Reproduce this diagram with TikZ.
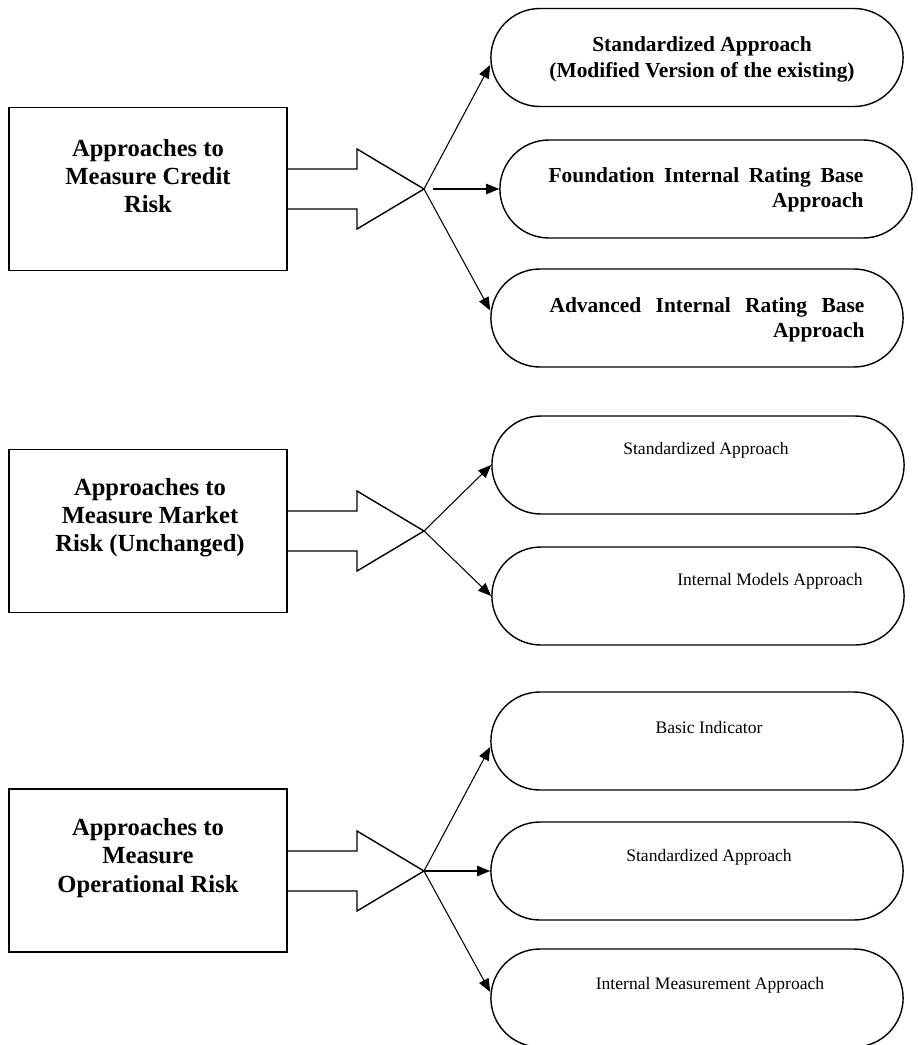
\documentclass[tikz,border=0pt]{standalone}
\usepackage{fontspec}
\setmainfont{Liberation Serif}
\usetikzlibrary{arrows.meta,shapes.misc}
\newcommand\fillline[1]{{\spaceskip=0.25em plus 1fil\hbox to 6.3cm{#1}}}
\tikzset{
  riskbox/.style={draw, thick, minimum width=5.56cm, minimum height=3.26cm},
  oval/.style={draw, thick, rounded rectangle, minimum width=8.48cm, minimum height=1.96cm},
  bigtext/.style={font=\bfseries\fontsize{14}{16}\selectfont, align=center},
  boldnote/.style={font=\bfseries\fontsize{12.2}{14.4}\selectfont, align=center},
  widenote/.style={font=\bfseries\fontsize{12.2}{14.4}\selectfont, text width=6.3cm, align=left, inner sep=0pt},
  smallnote/.style={font=\fontsize{10}{12}\selectfont},
  link/.style={semithick, -{Triangle[length=7.5pt,width=6pt]}},
  blockarrow/.style={thick, line join=miter}
}
\begin{document}
\begin{tikzpicture}[x=0.02cm, y=-0.02cm]
    \useasboundingbox (0,0) rectangle (917,1045);
    \node [riskbox] (cr) at (148,189) {};
    \node [riskbox] (mr) at (148,531) {};
    \node [riskbox] (or) at (148,870.5) {};
    \node [bigtext] (crt) at (148,176) {Approaches to\\Measure Credit\\Risk};
    \node [bigtext] (mrt) at (150,518) {Approaches to\\Measure Market\\Risk (Unchanged)};
    \node [bigtext] (ort) at (148,858) {Approaches to\\Measure\\Operational Risk};
    \coordinate (ctip) at (424,189);
    \coordinate (mtip) at (424,531);
    \coordinate (otip) at (424,871);
    \foreach \t in {ctip,mtip,otip}
      \draw [blockarrow] (\t) +(-137,-20) -- +(-67,-20) -- +(-67,-40) -- (\t) -- +(-67,40) -- +(-67,20) -- +(-137,20);
    \node [oval] (ca1) at (697,57.5) {};
    \node [oval] (ca2) at (706,189) {};
    \node [oval] (ca3) at (697,318) {};
    \node [oval] (ma1) at (698,465) {};
    \node [oval] (ma2) at (698,596) {};
    \node [oval] (oa1) at (697,741) {};
    \node [oval] (oa2) at (697,871) {};
    \node [oval] (oa3) at (697,998) {};
    \node [boldnote] (ca1t) at (702,59.5) {Standardized Approach\\(Modified Version of the existing)};
    \node [widenote] (ca2t) at (706,189.5) {\fillline{Foundation Internal Rating Base}\\\hfill Approach};
    \node [widenote] (ca3t) at (707,320) {\fillline{Advanced Internal Rating Base}\\\hfill Approach};
    \node [smallnote] (ma1t) at (706,450) {Standardized Approach};
    \node [smallnote] (ma2t) at (770,581) {Internal Models Approach};
    \node [smallnote] (oa1t) at (709,727) {Basic Indicator};
    \node [smallnote] (oa2t) at (709,857) {Standardized Approach};
    \node [smallnote] (oa3t) at (710,985) {Internal Measurement Approach};
    \draw [link] (ctip) -- ([yshift=-0.15cm]ca1.west);
    \draw [link, shorten <=0.18cm] (ctip) -- (ca2.west);
    \draw [link] (ctip) -- ([yshift=0.15cm]ca3.west);
    \draw [link] (mtip) -- (ma1.west);
    \draw [link] (mtip) -- (ma2.west);
    \draw [link] (otip) -- ([yshift=-0.12cm]oa1.west);
    \draw [link] (otip) -- (oa2.west);
    \draw [link] (otip) -- ([yshift=0.12cm]oa3.west);
  \end{tikzpicture}
\end{document}
